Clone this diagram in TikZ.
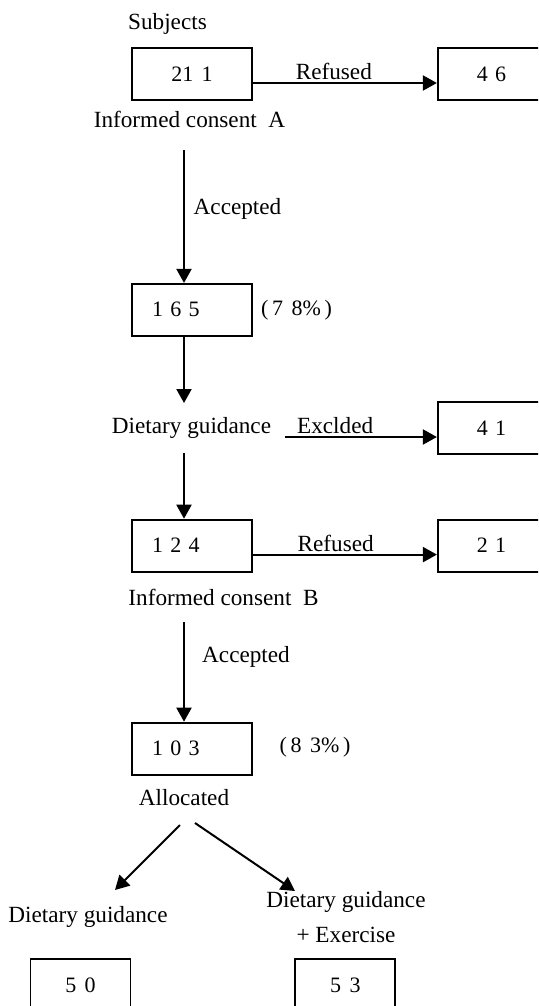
\documentclass[tikz,border=0pt]{standalone}
\usepackage{fontspec}
\setmainfont{Liberation Serif}
\usetikzlibrary{positioning, arrows.meta}

\newcommand{\numfont}{\fontsize{11}{13}\selectfont\spaceskip=4.25pt\relax}
\newcommand{\lblfont}{\fontsize{11.6}{17.5}\selectfont}

\begin{document}
\begin{tikzpicture}[x=1pt, y=1pt, node distance=91pt,
        >={Triangle[length=7pt, width=7.5pt]},
        box/.style={draw, line width=0.9pt, minimum width=60pt, minimum height=26pt, inner sep=0pt, font=\numfont},
        lft/.style={text width=40pt, inner xsep=10pt, align=left},
        rgt/.style={text width=21pt, inner xsep=19.5pt, align=left},
        lbl/.style={inner sep=1pt, font=\lblfont},
        pct/.style={inner sep=1pt, font=\numfont},
        flow/.style={->, line width=1pt}]
                \clip (0,0) rectangle (269,-503);

                \node[box] (n211) at (96,-37) {21 1};
                \node[box, rgt] (n46) [right=92pt of n211] {4 6};
                \node[box, lft] (n165) [below=of n211] {1 6 5};
                \node[box, rgt] (n41) [below=150pt of n46] {4 1};
                \node[box, lft] (n124) [below=of n165] {1 2 4};
                \node[box, rgt] (n21) [right=92pt of n124] {2 1};
                \node[box, lft] (n103) [below=74.6pt of n124] {1 0 3};
                \node[box, minimum width=50pt] (n50) at (40.25,-492.5) {5 0};
                \node[box, minimum width=50pt] (n53) [right=81.5pt of n50] {5 3};

                \node[lbl] (subj) at (83.75,-12) {Subjects};
                \node[lbl] (icA) at (94.75,-59.5) {Informed consent\enspace A};
                \node[lbl] (acc1) at (118.75,-104.5) {Accepted};
                \node[pct] (pc1) at (148.25,-155) {(\,7 8\%\,)};
                \node[lbl] (diet) at (95.75,-214) {Dietary guidance};
                \node[lbl] (icB) at (111.75,-298.5) {Informed consent\enspace B};
                \node[lbl] (acc2) at (123,-328.5) {Accepted};
                \node[pct] (pc2) at (157.5,-373.5) {(\,8 3\%\,)};
                \node[lbl] (alloc) at (92,-399) {Allocated};
                \node[lbl] (dg1) at (44,-458.5) {Dietary guidance};
                \node[lbl, align=center] (dg2) at (173,-458.75) {Dietary guidance\\+ Exercise};

                % free ends of the connectors
                \coordinate (a1) at (92,-75);
                \coordinate (a2) at (92,-201.5);
                \coordinate (a3) at (92,-226.5);
                \coordinate (a4) at (92,-311);
                \coordinate (ex) at (142.5,-218.5);
                \coordinate (l1) at (90,-412.5);
                \coordinate (l2) at (57.5,-445);
                \coordinate (r1) at (97.5,-411.5);
                \coordinate (r2) at (147.5,-445.5);

                \draw[flow] (a1) -- (a1 |- n165.north);
                \draw[flow] (a2 |- n165.south) -- (a2);
                \draw[flow] (a3) -- (a3 |- n124.north);
                \draw[flow] (a4) -- (a4 |- n103.north);

                \draw[flow] ([yshift=-4.5pt]n211.east) -- ([yshift=-4.5pt]n46.west) node[lbl, pos=0.44, above] {Refused};
                \draw[flow] (ex) -- (ex -| n41.west) node[lbl, pos=0.33, above] {Exclded};
                \draw[flow] ([yshift=-4.5pt]n124.east) -- ([yshift=-4.5pt]n21.west) node[lbl, pos=0.45, above] {Refused};

                \draw[flow] (l1) -- (l2);
                \draw[flow] (r1) -- (r2);
        \end{tikzpicture}
\end{document}
